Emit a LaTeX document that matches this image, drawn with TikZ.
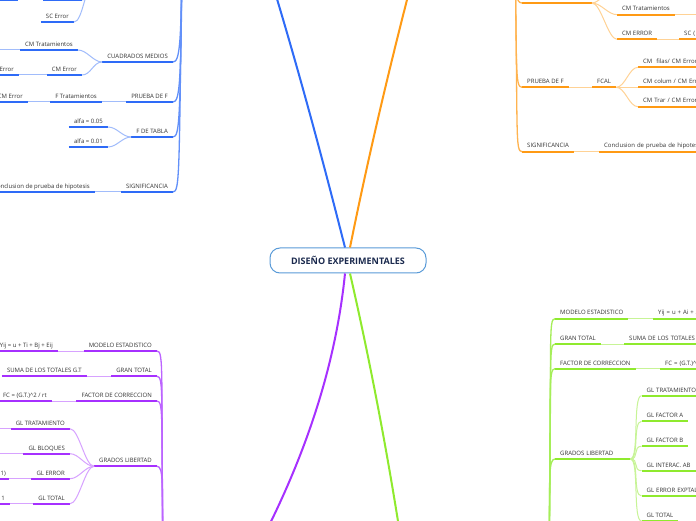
\documentclass[tikz,border=0pt]{standalone}
\usepackage{fontspec}
\setmainfont{Open Sans}
\definecolor{bl}{HTML}{2E6BF7}
\definecolor{orn}{HTML}{FF9A14}
\definecolor{pu}{HTML}{A630FF}
\definecolor{gr}{HTML}{8FEA2E}
\definecolor{txt}{HTML}{333333}
\definecolor{cbord}{HTML}{5A9BD8}
\definecolor{navy}{HTML}{1B2A4E}
\begin{document}
\begin{tikzpicture}[x=1pt,y=1pt,
  lbl/.style={font=\fontsize{6}{7}\selectfont, text=txt, inner xsep=5pt, inner ysep=2pt, text height=4.5pt, text depth=1.5pt},
  ul/.style={lbl, append after command={(\tikzlastnode.south west) edge[draw=#1, line width=1.7pt] (\tikzlastnode.south east)}},
  bnode/.style={ul=bl}, onode/.style={ul=orn}, pnode/.style={ul=pu}, gnode/.style={ul=gr},
  blink/.style={draw=bl!45, line width=1pt},
  olink/.style={draw=orn!45, line width=1pt},
  plink/.style={draw=pu!45, line width=1pt},
  glink/.style={draw=gr!50, line width=1pt},
  btrunk/.style={draw=bl!75, line width=1.3pt},
  otrunk/.style={draw=orn!75, line width=1.3pt},
  ptrunk/.style={draw=pu!75, line width=1.3pt},
  gtrunk/.style={draw=gr!80, line width=1.3pt},
  mainline/.style={draw=#1, line width=2pt},
  lfan/.style={out=180, in=0, distance=9pt},
  rfan/.style={out=0, in=180, distance=9pt},
  rtext/.style={text width=#1, align=left}
]
\useasboundingbox (0,0) rectangle (696,520);
\fill[white] (0,0) rectangle (696,520);
\clip (0,0) rectangle (696,520);

% ---------- central node ----------
\node[draw=cbord, line width=1pt, rounded corners=10pt, fill=white, minimum width=156pt, minimum height=25pt,
      font=\bfseries\fontsize{9}{10}\selectfont, text=navy] (root) at (348,259.5) {DISEÑO EXPERIMENTALES};

\coordinate (bmain) at (262,570);
\coordinate (omain) at (420,570);
\coordinate (pmain) at (240,-60);
\coordinate (gmain) at (407,-60);
\draw[mainline=bl] ([xshift=-3pt]root.north) .. controls (320,371) and (293,471) .. (bmain);
\draw[mainline=orn] ([xshift=2pt]root.north) .. controls (367,357) and (390,457) .. (omain);
\draw[mainline=pu] ([xshift=-3pt]root.south) .. controls (335,147) and (300,45) .. (pmain);
\draw[mainline=gr] ([xshift=2pt]root.south) .. controls (373,146) and (392,43) .. (gmain);

% ---------- BLUE (top left) ----------
\coordinate (btop) at (182,560);
\coordinate (bsqw) at (94,536);
\coordinate (bha) at (-5,520);
\coordinate (bhb) at (18,520);
\coordinate (bhc) at (43,520);
\coordinate (bhd) at (82,520);
\coordinate (bcmtx) at (-10,470);
\draw[bl, line width=1.7pt] (bha) -- (bhb);
\draw[blink] (bhb) -- (bhc);
\draw[bl, line width=1.7pt] (bhc) -- (bhd);
\draw[blink] (bsqw) to[lfan] (bhd);

\node[bnode, anchor=south east] (bsce) at (74,498) {SC Error};
\node[bnode, anchor=south east] (bcm) at (173,458) {CUADRADOS MEDIOS};
\node[bnode, anchor=south east] (bcmt) at (78,470) {CM Tratamientos};
\node[bnode, anchor=south east] (bcme) at (82,445) {CM Error};
\node[bnode, anchor=south east] (berr) at (19,445) {Error};
\node[bnode, anchor=south east] (bpf) at (173,418) {PRUEBA DE F};
\node[bnode, anchor=south east] (bft) at (102,418) {F Tratamientos};
\node[bnode, anchor=south east] (bcme2) at (28,418) {CM Error};
\node[bnode, anchor=south east] (bfdt) at (173,383) {F DE TABLA};
\node[bnode, anchor=south east] (ba05) at (108,393) {alfa = 0.05};
\node[bnode, anchor=south east] (ba01) at (108,373) {alfa = 0.01};
\node[bnode, anchor=south east] (bsig) at (173,328) {SIGNIFICANCIA};
\node[bnode, anchor=south east] (bcon) at (95,328) {Conclusion de prueba de hipotesis};

\draw[blink] (bsqw) to[lfan] (bsce.south east);
\draw[blink] (bcm.south west) to[lfan] (bcmt.south east);
\draw[blink] (bcm.south west) to[lfan] (bcme.south east);
\draw[blink] (bcme.south west) -- (berr.south east);
\draw[blink] (bcmt.south west) -- (bcmtx);
\draw[blink] (bpf.south west) -- (bft.south east);
\draw[blink] (bft.south west) -- (bcme2.south east);
\draw[blink] (bfdt.south west) to[lfan] (ba05.south east);
\draw[blink] (bfdt.south west) to[lfan] (ba01.south east);
\draw[blink] (bsig.south west) -- (bcon.south east);
\draw[btrunk] (bcm.south east) .. controls +(7,0) and (181,478) .. (btop);
\draw[btrunk] (bpf.south east) .. controls +(7,0) and (181,438) .. (btop);
\draw[btrunk] (bfdt.south east) .. controls +(7,0) and (180,403) .. (btop);
\draw[btrunk] (bsig.south east) .. controls +(7,0) and (179,348) .. (btop);

% ---------- ORANGE (top right) ----------
\coordinate (otop) at (515,562);
\coordinate (ohw) at (522,517);
\coordinate (ohe) at (592,517);
\coordinate (ohup) at (617,534);
\coordinate (ocmtx) at (705,505.3);
\draw[orn, line width=1.7pt] (ohw) -- (ohe);

\node[onode, anchor=south west] (ocmt) at (617,505.3) {CM Tratamientos};
\node[onode, anchor=south west] (ocme) at (617,480.7) {CM ERROR};
\node[onode, anchor=south west, rtext=25pt] (osc) at (679,480.7) {SC (};
\node[onode, anchor=south west] (opf) at (522,432.7) {PRUEBA DE F};
\node[onode, anchor=south west] (ofc) at (592,432.7) {FCAL};
\node[onode, anchor=south west, rtext=70pt] (of1) at (638,452.7) {CM\ \ filas/ CM Error};
\node[onode, anchor=south west, rtext=70pt] (of2) at (638,432.7) {CM colum / CM Error};
\node[onode, anchor=south west, rtext=70pt] (of3) at (638,413.3) {CM Trar / CM Error};
\node[onode, anchor=south west] (osig) at (522,368.3) {SIGNIFICANCIA};
\node[onode, anchor=south west, rtext=110pt] (ocon) at (599,368.3) {Conclusion de prueba de hipotesis};

\draw[olink] (ohe) to[rfan] (ocmt.south west);
\draw[olink] (ohe) to[rfan] (ocme.south west);
\draw[olink] (ohe) to[rfan] (ohup);
\draw[olink] (ocmt.south east) -- (ocmtx);
\draw[olink] (ocme.south east) -- (osc.south west);
\draw[olink] (opf.south east) -- (ofc.south west);
\draw[olink] (ofc.south east) to[rfan] (of1.south west);
\draw[olink] (ofc.south east) -- (of2.south west);
\draw[olink] (ofc.south east) to[rfan] (of3.south west);
\draw[olink] (osig.south east) -- (ocon.south west);
\draw[otrunk] (ohw) .. controls +(-7,0) and (516,530) .. (otop);
\draw[otrunk] (opf.south west) .. controls +(-7,0) and (517,450) .. (otop);
\draw[otrunk] (osig.south west) .. controls +(-7,0) and (518,386) .. (otop);

% ---------- PURPLE (bottom left) ----------
\coordinate (pbot) at (163,-40);
\coordinate (pgltx) at (-10,91.3);
\coordinate (pglbx) at (-10,66.3);

\node[pnode, anchor=south east] (pme) at (157,169) {MODELO ESTADISTICO};
\node[pnode, anchor=south east] (pyij) at (58,169) {Yij = u + Ti + Bj + Eij};
\node[pnode, anchor=south east] (pgt) at (157,143.7) {GRAN TOTAL};
\node[pnode, anchor=south east] (psum) at (87,143.7) {SUMA DE LOS TOTALES G.T};
\node[pnode, anchor=south east] (pfc) at (157,119) {FACTOR DE CORRECCION};
\node[pnode, anchor=south east] (pfcf) at (52,119) {FC = (G.T.)\textasciicircum 2 / rt};
\node[pnode, anchor=south east] (pgl) at (157,53.7) {GRADOS LIBERTAD};
\node[pnode, anchor=south east] (pglt) at (70,91.3) {GL TRATAMIENTO};
\node[pnode, anchor=south east] (pglb) at (70,66.3) {GL BLOQUES};
\node[pnode, anchor=south east] (pgle) at (70,41.3) {GL ERROR};
\node[pnode, anchor=south east] (pglto) at (70,16.3) {GL TOTAL};
\node[pnode, anchor=south east, inner xsep=3pt] (p1a) at (9,41.3) {1)};
\node[pnode, anchor=south east] (p1b) at (10,16.3) {1};

\draw[plink] (pme.south west) -- (pyij.south east);
\draw[plink] (pgt.south west) -- (psum.south east);
\draw[plink] (pfc.south west) -- (pfcf.south east);
\draw[plink] (pgl.south west) to[lfan] (pglt.south east);
\draw[plink] (pgl.south west) to[lfan] (pglb.south east);
\draw[plink] (pgl.south west) to[lfan] (pgle.south east);
\draw[plink] (pgl.south west) to[lfan] (pglto.south east);
\draw[plink] (pglt.south west) -- (pgltx);
\draw[plink] (pglb.south west) -- (pglbx);
\draw[plink] (pgle.south west) -- (p1a.south east);
\draw[plink] (pglto.south west) -- (p1b.south east);
\draw[ptrunk] (pme.south east) .. controls +(7,0) and (161,150) .. (pbot);
\draw[ptrunk] (pgt.south east) .. controls +(7,0) and (161,125) .. (pbot);
\draw[ptrunk] (pfc.south east) .. controls +(7,0) and (161,100) .. (pbot);
\draw[ptrunk] (pgl.south east) .. controls +(7,0) and (162,35) .. (pbot);

% ---------- GREEN (bottom right) ----------
\coordinate (gbot) at (549,-40);

\node[gnode, anchor=south west] (gme) at (555,201.3) {MODELO ESTADISTICO};
\node[gnode, anchor=south west, rtext=50pt] (gyij) at (653,201.3) {Yij = u + Ai + A};
\node[gnode, anchor=south west] (ggt) at (555,176) {GRAN TOTAL};
\node[gnode, anchor=south west, rtext=80pt] (gsum) at (624,176) {SUMA DE LOS TOTALES G.T};
\node[gnode, anchor=south west] (gfc) at (555,151.3) {FACTOR DE CORRECCION};
\node[gnode, anchor=south west, rtext=50pt] (gfcf) at (660,151.3) {FC = (G.T.)\textasciicircum 2};
\node[gnode, anchor=south west, rtext=65pt] (ggl) at (555,61) {GRADOS LIBERTAD};
\node[gnode, anchor=south west, rtext=60pt] (gglt) at (641.5,124.3) {GL TRATAMIENTO};
\node[gnode, anchor=south west] (gfa) at (641.5,98.7) {GL FACTOR A};
\node[gnode, anchor=south west] (gfb) at (641.5,73.7) {GL FACTOR B};
\node[gnode, anchor=south west] (gia) at (641.5,49.3) {GL INTERAC. AB};
\node[gnode, anchor=south west, rtext=60pt] (gee) at (641.5,24) {GL ERROR EXPTAL};
\node[gnode, anchor=south west] (gto) at (641.5,-1) {GL TOTAL};

\draw[glink] (gme.south east) -- (gyij.south west);
\draw[glink] (ggt.south east) -- (gsum.south west);
\draw[glink] (gfc.south east) -- (gfcf.south west);
\draw[glink] (ggl.south east) to[rfan] (gglt.south west);
\draw[glink] (ggl.south east) to[rfan] (gfa.south west);
\draw[glink] (ggl.south east) to[rfan] (gfb.south west);
\draw[glink] (ggl.south east) to[rfan] (gia.south west);
\draw[glink] (ggl.south east) to[rfan] (gee.south west);
\draw[glink] (ggl.south east) to[rfan] (gto.south west);
\draw[gtrunk] (gme.south west) .. controls +(-7,0) and (552,182) .. (gbot);
\draw[gtrunk] (ggt.south west) .. controls +(-7,0) and (552,157) .. (gbot);
\draw[gtrunk] (gfc.south west) .. controls +(-7,0) and (551,132) .. (gbot);
\draw[gtrunk] (ggl.south west) .. controls +(-7,0) and (550,42) .. (gbot);
\end{tikzpicture}
\end{document}
